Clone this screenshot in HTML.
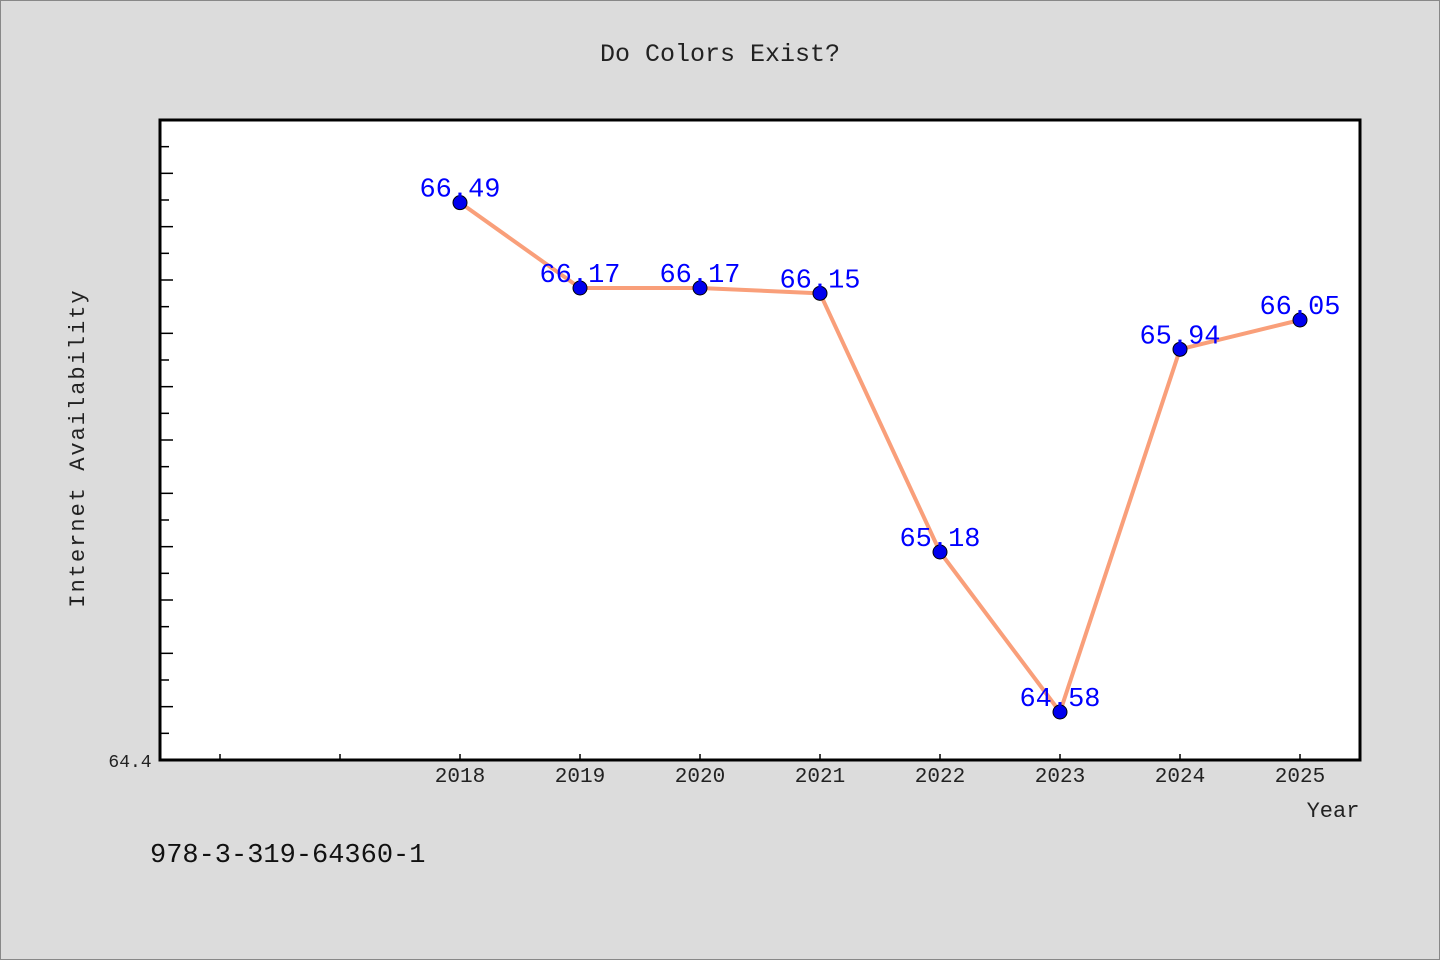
<!DOCTYPE html>
<html><head><meta charset="utf-8"><style>
html,body{margin:0;padding:0;background:#dcdcdc;}
svg{display:block;}
text{font-family:"Liberation Mono","Noto Sans CJK SC",monospace;}
</style></head><body>
<svg id="chart" width="1440" height="960" xmlns="http://www.w3.org/2000/svg">
<rect x="0.5" y="0.5" width="1439" height="959" fill="#dcdcdc" stroke="#888"/>
<text x="720" y="61" font-size="25" text-anchor="middle" fill="#222">Do Colors Exist?</text>
<rect x="160" y="120" width="1200" height="640" fill="#fff" stroke="#000" stroke-width="3"/>
<g id="ticks"></g>
<g id="series"></g>
<text x="84" y="448" font-size="22" text-anchor="middle" fill="#222" transform="rotate(-90 84 448)" letter-spacing="2">Internet Availability</text>
<text x="1333" y="817" font-size="22" text-anchor="middle" fill="#222">Year</text>
<text x="130" y="767" font-size="18" text-anchor="middle" fill="#222">64.4</text>
<text x="150" y="862" font-size="27" fill="#111" font-family="Liberation Sans, sans-serif">978-3-319-64360-1</text>
</svg>
<script>
const years = [2018, 2019, 2020, 2021, 2022, 2023, 2024, 2025];
const values = [66.49, 66.17, 66.17, 66.15, 65.18, 64.58, 65.94, 66.05];
const xMinorTicks = [2016, 2017];
const yMin = 64.4, yMax = 66.8;
const xMin = 2015.5, xMax = 2025.5;
const L = 160, R = 1360, T = 120, B = 760;
const NS = 'http://www.w3.org/2000/svg';
function xs(v){ return L + (v - xMin) / (xMax - xMin) * (R - L); }
function ys(v){ return B - (v - yMin) / (yMax - yMin) * (B - T); }
function mk(tag, attrs, parent){ const e = document.createElementNS(NS, tag); for (const k in attrs) e.setAttribute(k, attrs[k]); parent.appendChild(e); return e; }
const tg = document.getElementById('ticks');
for (let i = 1; i < 24; i++) {
  const v = yMin + i * 0.1;
  const y = ys(v);
  const t = mk('line', {x1: L, x2: L + (i % 2 ? 9 : 13), y1: y, y2: y, stroke: '#000', 'stroke-width': 1.5}, tg);
  
  
}
xMinorTicks.concat(years).forEach(yr => {
  const x = xs(yr);
  const t = mk('line', {x1: x, x2: x, y1: B, y2: B - 6, stroke: '#000', 'stroke-width': 1.5}, tg);
  
  
});
years.forEach(yr => {
  const t = mk('text', {x: xs(yr), y: 782, 'font-size': 21, 'text-anchor': 'middle', fill: '#222', 'font-family': 'Liberation Sans, sans-serif'}, tg);
  t.textContent = yr;
  
  
});
const sg = document.getElementById('series');
const pts = years.map((yr, i) => xs(yr) + ',' + ys(values[i])).join(' ');
const line = mk('polyline', {points: pts, fill: 'none', stroke: '#f99f7a', 'stroke-width': 4, 'stroke-linejoin': 'round'}, sg);


years.forEach((yr, i) => {
  const c = mk('circle', {cx: xs(yr), cy: ys(values[i]), r: 7, fill: '#0000ee', stroke: '#000', 'stroke-width': 1}, sg);
  
  
  const t = mk('text', {x: xs(yr), y: ys(values[i]) - 6, 'font-size': 27, 'text-anchor': 'middle', fill: '#0000ff', 'font-family': 'Liberation Sans, sans-serif'}, sg);
  t.textContent = values[i].toFixed(2);
  
  
});
</script>
</body></html>
